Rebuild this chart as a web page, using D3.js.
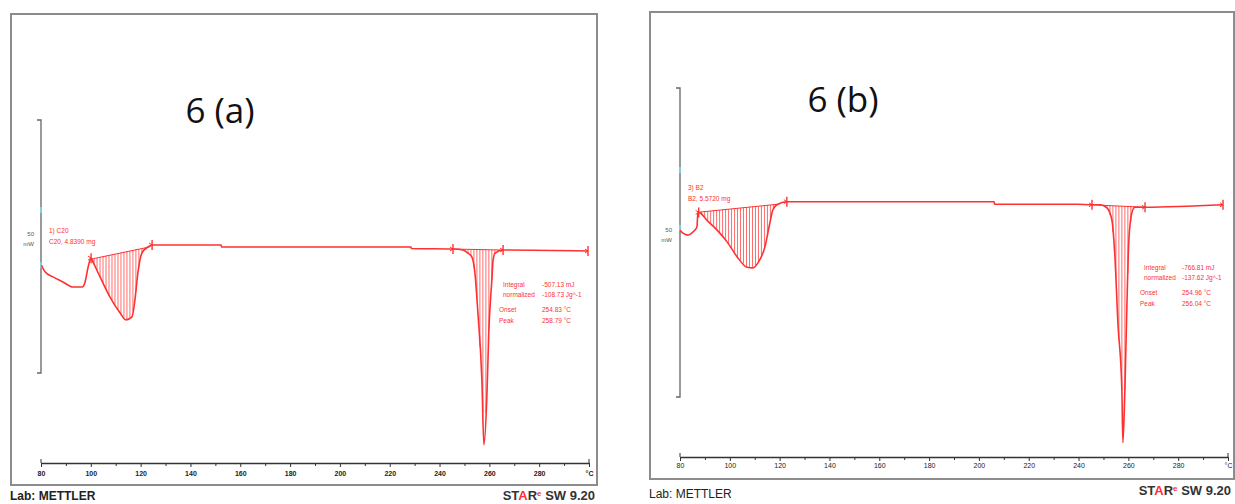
<!DOCTYPE html>
<html>
<head>
<meta charset="utf-8">
<script src="https://cdn.jsdelivr.net/npm/d3@7"></script>
<style>
  body { margin: 0; background: #fff; }
  svg { display: block; }
</style>
</head>
<body>
<svg id="chart" width="1235" height="504"></svg>
<script>
// ---- values ----
const tickTemps = [80, 100, 120, 140, 160, 180, 200, 220, 240, 260, 280, 300];
const tickLabels = ["80", "100", "120", "140", "160", "180", "200", "220", "240", "260", "280", "°C"];

// 6 (a): heat flow (mW) against temperature (°C)
const tempA = [80.2, 81.6, 84.8, 88.8, 92.8, 96.5, 97.7, 98.9, 100.1, 101.0, 103.7, 107.7, 111.7, 114.1,
  116.5, 117.7, 118.9, 120.5, 122.9, 124.6, 152.3, 152.5, 228.5, 228.7, 245.4, 249.4, 251.4, 253.0,
  254.2, 255.4, 257.0, 257.8, 259.0, 259.8, 261.0, 261.5, 262.3, 265.5, 299.6];
const flowA = [-3.7, -5.0, -6.0, -7.0, -8.0, -8.0, -7.0, -4.1, -2.3, -3.2, -6.0, -10.0, -13.1, -14.5,
  -13.9, -10.6, -5.2, -1.3, -0.1, 0.3, 0.3, -0.1, -0.1, -0.4, -0.5, -0.7, -1.3, -2.1,
  -5.2, -13.1, -26.4, -39.2, -29.7, -16.5, -6.6, -2.7, -1.3, -0.7, -0.9];

// 6 (b)
const tempB = [80.0, 81.2, 83.2, 85.2, 86.8, 87.2, 88.0, 90.8, 94.9, 98.9, 102.9, 106.9, 109.3, 111.3,
  114.1, 116.1, 117.3, 118.9, 122.9, 206.1, 206.3, 239.4, 245.4, 248.6, 251.4, 253.4, 254.6, 255.8,
  257.4, 257.8, 258.6, 259.4, 260.2, 261.4, 262.6, 266.7, 298.0];
const flowB = [2.0, 1.5, 1.2, 1.7, 2.5, 4.9, 4.8, 3.6, 2.0, 0.1, -2.3, -4.0, -4.1, -3.3,
  -0.7, 3.2, 5.3, 6.1, 6.6, 6.6, 6.2, 6.2, 6.1, 6.1, 5.6, 3.6, -2.3, -13.0,
  -23.9, -32.4, -23.9, -10.4, 0.4, 4.8, 5.7, 5.7, 6.1];

// integration baselines: [t0, mW0, t1, mW1]
const peaksA = [[100.1, -2.5, 123.5, -0.1], [245.4, -0.5, 265.5, -0.7]];
const peaksB = [[87.5, 4.9, 119.5, 6.2], [245.4, 6.1, 266.7, 5.7]];
// limit markers (°C)
const marksA = [100.1, 124.6, 245.4, 265.5, 299.6];
const marksB = [87.5, 122.9, 245.4, 266.7, 298.0];

const sampleA = ["1) C20", "C20, 4.8390 mg"];
const sampleB = ["3) B2", "B2, 5.5720 mg"];
const resultNames = ["Integral", "normalized", "Onset", "Peak"];
const resultsA = ["-507.13 mJ", "-108.73 Jg^-1", "254.83 °C", "258.79 °C"];
const resultsB = ["-766.81 mJ", "-137.62 Jg^-1", "254.96 °C", "256.04 °C"];

const red = "#ff3030";
const svg = d3.select("#chart");

const panels = [
  { title: "6 (a)", titleX: 220, titleY: 123, frame: [11, 14, 597, 485], xr: [41, 589], axisY: 463,
    labelDy: 14, yr: [373, 120], temps: tempA, flows: flowA, peaks: peaksA, marks: marksA,
    sample: sampleA, sampleX: 49, sampleY: 233, results: resultsA, resX: [499, 542], resY: 287,
    unitX: 34, unitY: 236, tickBold: true, labY: 500, labBold: true, starY: 500, starR: 595,
    cyan: [210, 265] },
  { title: "6 (b)", titleX: 843, titleY: 112, frame: [650, 12, 1234, 479], xr: [680, 1228], axisY: 457,
    labelDy: 12, yr: [397, 88], temps: tempB, flows: flowB, peaks: peaksB, marks: marksB,
    sample: sampleB, sampleX: 688, sampleY: 190, results: resultsB, resX: [1140, 1182], resY: 270,
    unitX: 672, unitY: 232, tickBold: false, labY: 498, labBold: false, starY: 495, starR: 1231,
    cyan: [170, 228] }
];

function interp(ts, fs, t) {
  const i = d3.bisectRight(ts, t);
  if (i <= 0) return fs[0];
  if (i >= ts.length) return fs[fs.length - 1];
  const k = (t - ts[i - 1]) / (ts[i] - ts[i - 1]);
  return fs[i - 1] + k * (fs[i] - fs[i - 1]);
}

panels.forEach(p => {
  const g = svg.append("g");
  const [fx0, fy0, fx1, fy1] = p.frame;

  // frame
  g.append("rect")
    .attr("x", fx0).attr("y", fy0)
    .attr("width", fx1 - fx0).attr("height", fy1 - fy0)
    .attr("fill", "none").attr("stroke", "#8c8c8c").attr("stroke-width", 2);

  const x = d3.scaleLinear().domain([80, 300]).range(p.xr);
  const y = d3.scaleLinear().domain([-25, 25]).range(p.yr);

  // x axis, minor ticks then major ticks
  g.append("g")
    .attr("transform", `translate(0,${p.axisY})`)
    .call(d3.axisBottom(x).tickValues(d3.range(90, 300, 20)).tickSize(3).tickSizeOuter(0).tickFormat(""))
    .call(a => a.select(".domain").remove())
    .selectAll("line").attr("stroke", "#333");

  const ax = g.append("g")
    .attr("transform", `translate(0,${p.axisY})`)
    .call(d3.axisBottom(x).tickValues(tickTemps).tickSize(4).tickSizeOuter(0)
      .tickFormat((d, i) => tickLabels[i]));
  ax.select(".domain").attr("stroke", "#333").attr("stroke-width", 1.3);
  ax.selectAll("line").attr("stroke", "#333");
  ax.selectAll("text")
    .attr("y", p.labelDy - 3)
    .attr("dy", "0.32em")
    .style("font-family", "Liberation Sans, Arial, sans-serif")
    .style("font-size", "7px")
    .style("font-weight", p.tickBold ? "bold" : "normal")
    .attr("fill", "#222");
  // end caps of the axis
  [x(80), x(300)].forEach(v => {
    g.append("line").attr("x1", v).attr("x2", v)
      .attr("y1", p.axisY - 4).attr("y2", p.axisY)
      .attr("stroke", "#333");
  });

  // y scale bar
  g.append("path")
    .attr("d", `M${p.xr[0] - 4},${p.yr[1]} H${p.xr[0]} V${p.yr[0]} H${p.xr[0] - 4}`)
    .attr("fill", "none").attr("stroke", "#666").attr("stroke-width", 1.3);
  p.cyan.forEach(cy => {
    g.append("rect").attr("x", p.xr[0] - 1).attr("y", cy - 3)
      .attr("width", 2).attr("height", 6).attr("fill", "#7fd3d8");
  });
  g.append("text").attr("x", p.unitX).attr("y", p.unitY)
    .attr("text-anchor", "end")
    .style("font-family", "Liberation Sans, Arial, sans-serif").style("font-size", "6px")
    .attr("fill", "#555").text("50");
  g.append("text").attr("x", p.unitX).attr("y", p.unitY + 10)
    .attr("text-anchor", "end")
    .style("font-family", "Liberation Sans, Arial, sans-serif").style("font-size", "6px")
    .attr("fill", "#555").text("mW");

  // hatching of the integrated areas
  p.peaks.forEach(([t0, m0, t1, m1]) => {
    const step = (t1 - t0) > 15 ? 1.2 : 0.7;
    const base = d3.scaleLinear().domain([t0, t1]).range([m0, m1]);
    d3.range(t0, t1, step).forEach(t => {
      const c = interp(p.temps, p.flows, t);
      if (c < base(t) - 0.15) {
        g.append("line")
          .attr("x1", x(t)).attr("x2", x(t))
          .attr("y1", y(base(t))).attr("y2", y(c))
          .attr("stroke", "#ff5a5a").attr("stroke-width", 0.9);
      }
    });
    g.append("line")
      .attr("x1", x(t0)).attr("y1", y(m0))
      .attr("x2", x(t1)).attr("y2", y(m1))
      .attr("stroke", red).attr("stroke-width", 1);
  });

  // the curve
  const pts = p.temps.map((t, i) => [t, p.flows[i]]);
  g.append("path")
    .datum(pts)
    .attr("d", d3.line().x(d => x(d[0])).y(d => y(d[1])).curve(d3.curveMonotoneX))
    .attr("fill", "none").attr("stroke", red).attr("stroke-width", 1.6);

  // limit markers
  p.marks.forEach(t => {
    const cy = y(interp(p.temps, p.flows, t));
    g.append("line").attr("x1", x(t)).attr("x2", x(t))
      .attr("y1", cy - 5).attr("y2", cy + 5)
      .attr("stroke", red).attr("stroke-width", 1.4);
    g.append("path")
      .attr("d", `M${x(t) - 3},${cy - 2} L${x(t)},${cy} L${x(t) - 3},${cy + 2}`)
      .attr("fill", "none").attr("stroke", red).attr("stroke-width", 1);
  });

  // sample label
  p.sample.forEach((s, i) => {
    g.append("text").attr("x", p.sampleX).attr("y", p.sampleY + i * 11)
      .style("font-family", "Liberation Sans, Arial, sans-serif").style("font-size", "6.5px")
      .attr("fill", red).text(s);
  });

  // results block
  resultNames.forEach((n, i) => {
    const yy = p.resY + i * (i < 2 ? 10 : 11) + (i >= 2 ? 3 : 0);
    g.append("text").attr("x", p.resX[0] + (i < 2 ? 4 : 0)).attr("y", yy)
      .style("font-family", "Liberation Sans, Arial, sans-serif").style("font-size", "6.5px")
      .attr("fill", red).text(n);
    g.append("text").attr("x", p.resX[1]).attr("y", yy)
      .style("font-family", "Liberation Sans, Arial, sans-serif").style("font-size", "6.5px")
      .attr("fill", red).text(p.results[i]);
  });

  // title
  g.append("text").attr("x", p.titleX).attr("y", p.titleY)
    .attr("text-anchor", "middle")
    .style("font-family", "Open Sans, sans-serif").style("font-size", "35px")
    .attr("fill", "#111").text(p.title);

  // footer
  g.append("text").attr("x", fx0 - 1).attr("y", p.labY)
    .style("font-family", "Liberation Sans, Arial, sans-serif").style("font-size", "12px")
    .style("font-weight", p.labBold ? "bold" : "normal")
    .attr("fill", "#222").text("Lab: METTLER");
  const star = g.append("text").attr("x", p.starR).attr("y", p.starY)
    .attr("text-anchor", "end")
    .style("font-family", "Liberation Sans, Arial, sans-serif").style("font-size", "13px")
    .style("font-weight", "bold").attr("fill", "#333");
  star.append("tspan").text("ST");
  star.append("tspan").attr("fill", red).text("A");
  star.append("tspan").text("R");
  star.append("tspan").attr("fill", red).attr("font-size", "8px").attr("dy", "-4").text("e");
  star.append("tspan").attr("dy", "4").text(" SW 9.20");
});
</script>
</body>
</html>
